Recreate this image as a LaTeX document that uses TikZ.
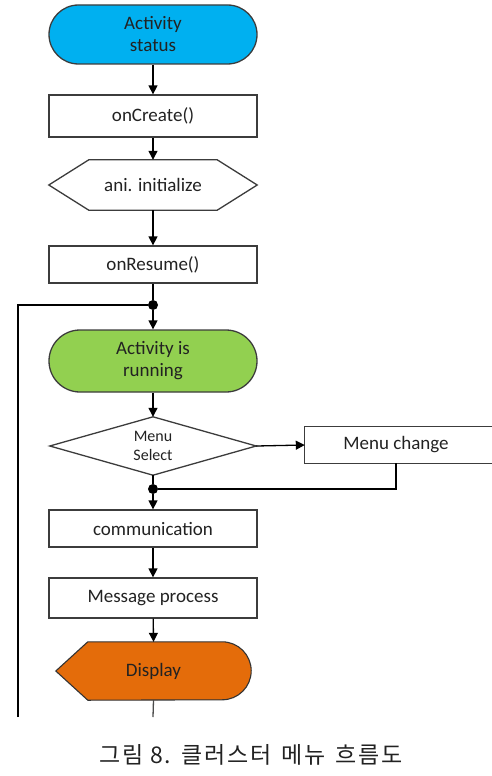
\documentclass[tikz,border=0pt]{standalone}
\usepackage{fontspec}
\setmainfont{Carlito}
\newfontfamily\krfont[LetterSpace=8]{Noto Sans CJK KR}
\usetikzlibrary{arrows.meta}
\definecolor{cblue}{HTML}{00B0F0}
\definecolor{cgreen}{HTML}{92D050}
\definecolor{corange}{HTML}{E46C0A}
\definecolor{lgray}{HTML}{3C3C3C}
\definecolor{txt}{HTML}{222222}
\begin{document}
\begin{tikzpicture}[x=1pt,y=-1pt,
  base/.style={inner sep=0pt, align=center, text=txt, font=\fontsize{19}{22}\selectfont},
  box/.style={base, draw=lgray, line width=1.3pt, fill=white, minimum width=208pt},
  plain/.style={base},
  shapeline/.style={draw=lgray, line width=1.3pt},
  line/.style={draw=black, line width=1.3pt},
  arr/.style={line, -{Triangle[length=9pt,width=9pt]}},
  jdot/.style={circle, fill=black, inner sep=0pt, minimum size=10pt}]
\useasboundingbox (0,0) rectangle (491,776);

\node[box, rounded corners=29.5pt, fill=cblue, minimum height=59pt] (start) at (153,34.5) {Activity\\status};
\node[box, minimum height=42pt] (create) at (153,116) {onCreate()};
\node[plain, minimum width=208pt, minimum height=50pt] (ani) at (153,185) {};
\draw[shapeline, fill=white] (ani.west) -- ([xshift=40pt]ani.north west) -- ([xshift=-40pt]ani.north east) -- (ani.east) -- ([xshift=-40pt]ani.south east) -- ([xshift=40pt]ani.south west) -- cycle;
\node[plain] at (ani) {ani. initialize};
\node[box, minimum height=37pt] (resume) at (153,264.5) {onResume()};
\node[jdot] (j1) at (153,305) {};
\node[box, rounded corners=31pt, fill=cgreen, minimum height=62pt] (run) at (153,361) {Activity is\\running};
\node[plain, minimum width=206pt, minimum height=58pt] (menu) at (153,446) {};
\draw[shapeline, fill=white] (menu.north) -- (menu.east) -- (menu.south) -- (menu.west) -- cycle;
\node[plain, font=\fontsize{16}{19}\selectfont] at (menu) {Menu\\Select};
\node[plain, minimum width=182pt, minimum height=36pt] (mc) at (396,445) {Menu change};
\draw[shapeline] ([xshift=12pt]mc.north east) -- (mc.north west) -- (mc.south west) -- ([xshift=12pt]mc.south east);
\node[jdot] (j2) at (153,489) {};
\node[box, minimum height=37pt] (comm) at (153,528.5) {communication};
\node[box, minimum height=40pt] (msg) at (153,598) {Message process};
\node[plain, minimum width=195pt, minimum height=58pt] (disp) at (153.5,671) {};
\draw[draw=black!80, line width=1.1pt, fill=corange] (disp.west) -- ([xshift=32pt]disp.north west) -- ([xshift=-29pt]disp.north east) arc[start angle=90, end angle=-90, radius=29pt] -- ([xshift=32pt]disp.south west) -- cycle;
\node[plain] at (disp) {Display};
\coordinate (dispend) at (153,717);
\coordinate (loopend) at (18,717);

\draw[arr] (start) -- (create);
\draw[arr] (create) -- (ani.north);
\draw[arr] (ani.south) -- (resume);
\draw[line] (resume) -- (j1);
\draw[arr] (j1) -- (run);
\draw[arr] (run) -- (menu.north);
\draw[arr] (menu.east) -- (mc.west);
\draw[line] (mc.south) |- (j2);
\draw[line] (menu.south) -- (j2);
\draw[arr] (j2) -- (comm);
\draw[arr] (comm) -- (msg);
\draw[arr] (msg) -- (disp.north);
\draw[line, draw=black!70] (disp.south) -- (dispend);
\draw[line] (loopend) |- (j1);

\node[font=\krfont\fontsize{23}{26}\selectfont, text=txt] (cap) at (251,755) {그림 8.\hspace{10pt}클러스터\hspace{10pt}메뉴\hspace{10pt}흐름도};
\end{tikzpicture}
\end{document}
